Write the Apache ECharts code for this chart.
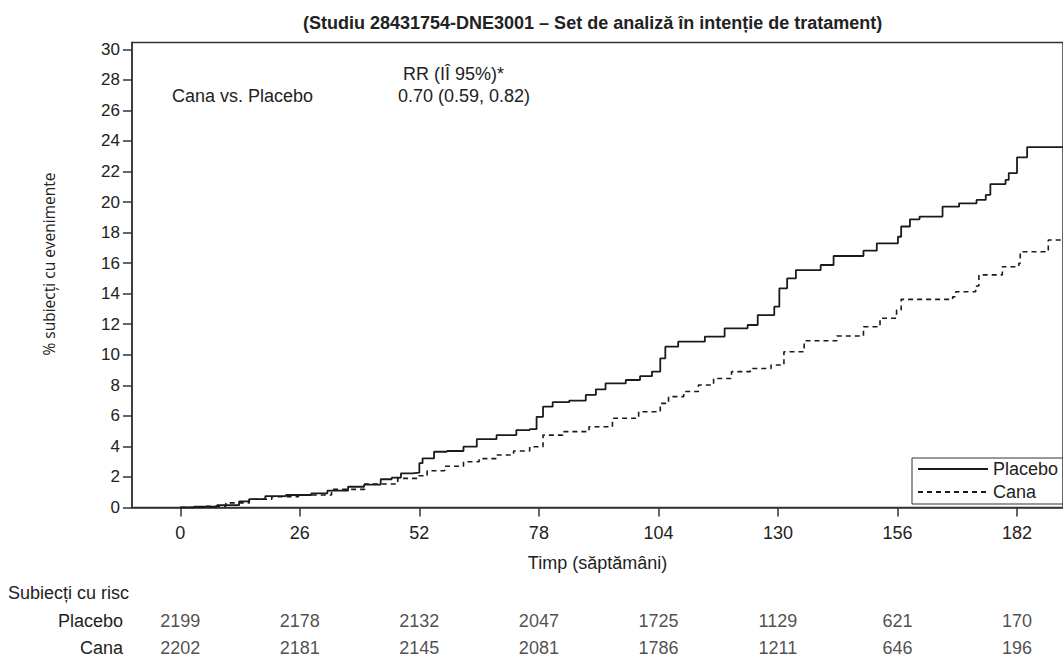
<!DOCTYPE html>
<html>
<head>
<meta charset="utf-8">
<script src="https://cdn.jsdelivr.net/npm/echarts@6/dist/echarts.min.js"></script>
<style>
html,body{margin:0;padding:0;background:#fff;}
#chart{width:1063px;height:664px;}
</style>
</head>
<body>
<div id="chart"></div>
<script>
// ---- data ----
var xTicks = [0, 26, 52, 78, 104, 130, 156, 182];
var yTicks = [0, 2, 4, 6, 8, 10, 12, 14, 16, 18, 20, 22, 24, 26, 28, 30];

var placebo = [[0,0],[3,0.05],[8,0.15],[12.8,0.4],[15,0.55],[18.5,0.75],[23,0.82],[28.5,0.93],[32,1.1],[36.5,1.36],[40,1.5],[43.6,1.85],[46,1.95],[48,2.24],[50.5,2.28],[52,2.9],[52.7,3.22],[55.2,3.65],[58,3.7],[61.6,3.98],[64.5,4.48],[68.8,4.74],[73.1,5.07],[76,5.13],[77.5,5.94],[78.9,6.6],[81,6.9],[84.6,7.0],[88.2,7.37],[90.4,7.74],[92.5,8.13],[96.9,8.35],[100,8.6],[102.6,8.9],[104.4,9.77],[105.5,10.53],[108.3,10.86],[114.1,11.19],[118.4,11.73],[123.4,11.95],[125.6,12.6],[129.2,13.15],[130.3,14.35],[132,15.0],[133.9,15.55],[139.3,15.88],[142.1,16.47],[148.6,16.82],[151.5,17.3],[156.1,17.73],[156.8,18.4],[158.7,18.87],[160.8,19.05],[165.8,19.7],[169.4,19.92],[173.2,20.14],[175.2,20.47],[176.2,21.18],[179.5,21.45],[180.2,21.9],[182,22.93],[184.2,23.6],[192,23.6]];

var cana = [[0,0],[5,0.08],[9.9,0.3],[15,0.54],[19.9,0.7],[25.7,0.82],[32.9,1.19],[40.1,1.54],[47.3,1.91],[51.6,2.08],[53.7,2.41],[57.5,2.7],[61.6,3.0],[65,3.2],[68.8,3.44],[72.5,3.7],[76,3.98],[78.9,4.74],[83.2,4.97],[88.9,5.29],[94,5.84],[99.7,6.27],[104.4,6.82],[106.2,7.26],[109.5,7.6],[112.7,8.02],[116,8.45],[119.9,8.9],[124,9.1],[128.5,9.33],[131.3,10.2],[135.7,10.92],[142.8,11.23],[148.6,11.84],[152.2,12.39],[155.8,12.93],[156.8,13.63],[168,13.8],[168.7,14.13],[173,14.5],[173.7,15.23],[178.8,15.77],[182.4,15.99],[182.7,16.75],[188.1,16.86],[188.8,17.52],[192,17.52]];

var riskTimes = [0, 26, 52, 78, 104, 130, 156, 182];
var riskPlacebo = [2199, 2178, 2132, 2047, 1725, 1129, 621, 170];
var riskCana = [2202, 2181, 2145, 2081, 1786, 1211, 646, 196];
var riskGroups = ['Placebo', 'Cana'];

// ---- chart ----
var FONT = "'Liberation Sans', Arial, sans-serif";
var NARROW = "'Liberation Sans Narrow', 'Liberation Sans', Arial, sans-serif";
var INK = '#222';

var riskData = [];
riskTimes.forEach(function (t, i) {
  riskData.push([t, 'Placebo', riskPlacebo[i]]);
  riskData.push([t, 'Cana', riskCana[i]]);
});

var chart = echarts.init(document.getElementById('chart'), null, {renderer: 'svg'});
chart.setOption({
  backgroundColor: '#fff',
  animation: false,
  title: {
    text: '(Studiu 28431754-DNE3001 \u2013 Set de analiz\u0103 \u00een inten\u021bie de tratament)',
    left: 298, top: 9,
    textStyle: {fontFamily: NARROW, fontWeight: 'bold', fontSize: 18, color: INK}
  },
  legend: {
    data: ['Placebo', 'Cana'],
    orient: 'vertical',
    left: 912, top: 458,
    padding: [2, 8, 3, 5],
    itemWidth: 70, itemHeight: 16, itemGap: 5, itemTextGap: 10,
    borderColor: '#333', borderWidth: 1,
    itemStyle: {opacity: 0},
    textStyle: {fontFamily: FONT, fontSize: 18, color: INK}
  },
  grid: [
    {left: 132, right: -8.4, top: 42.5, height: 465, show: true, borderColor: '#333', borderWidth: 1.5, backgroundColor: 'transparent'},
    {left: 132, right: -8.4, top: 607, height: 54}
  ],
  xAxis: [
    {
      type: 'value', gridIndex: 0, min: -10.5, max: 192,
      name: 'Timp (s\u0103pt\u0103m\u00e2ni)', nameLocation: 'middle', nameGap: 46,
      nameTextStyle: {fontFamily: FONT, fontSize: 18, color: INK},
      axisLine: {show: true, onZero: false, lineStyle: {color: '#333', width: 1.5}},
      axisTick: {show: true, length: 9, customValues: xTicks, lineStyle: {color: '#333', width: 1.5}},
      axisLabel: {customValues: xTicks, margin: 16, fontFamily: FONT, fontSize: 18, color: INK},
      splitLine: {show: false}
    },
    {type: 'value', gridIndex: 1, min: -10.5, max: 192, show: false}
  ],
  yAxis: [
    {
      type: 'value', gridIndex: 0, min: 0, max: 30.45,
      axisLine: {show: true, onZero: false, lineStyle: {color: '#333', width: 1.5}},
      axisTick: {show: true, length: 9, customValues: yTicks, lineStyle: {color: '#333', width: 1.5}},
      axisLabel: {customValues: yTicks, margin: 12, fontFamily: FONT, fontSize: 17, color: INK},
      splitLine: {show: false}
    },
    {
      type: 'category', gridIndex: 1, data: riskGroups, inverse: true,
      axisLine: {show: false, onZero: false}, axisTick: {show: false},
      axisLabel: {margin: 9, fontFamily: NARROW, fontSize: 18, color: INK}
    }
  ],
  graphic: [
    {type: 'text', x: 403, y: 74, style: {text: 'RR (I\u00ce 95%)*', fontFamily: FONT, fontSize: 18, fill: INK, align: 'left', verticalAlign: 'middle'}},
    {type: 'text', x: 172, y: 96, style: {text: 'Cana vs. Placebo', fontFamily: FONT, fontSize: 18, fill: INK, align: 'left', verticalAlign: 'middle'}},
    {type: 'text', x: 398, y: 96, style: {text: '0.70 (0.59, 0.82)', fontFamily: FONT, fontSize: 18, fill: INK, align: 'left', verticalAlign: 'middle'}},
    {type: 'text', x: 48.5, y: 264, rotation: Math.PI / 2, style: {text: '% subiec\u021bi cu evenimente', fontFamily: "'Open Sans', sans-serif", fontSize: 15.5, fill: INK, align: 'center', verticalAlign: 'middle'}},
    {type: 'text', x: 8, y: 593, style: {text: 'Subiec\u021bi cu risc', fontFamily: NARROW, fontSize: 18, fill: INK, align: 'left', verticalAlign: 'middle'}}
  ],
  series: [
    {
      name: 'Placebo', type: 'line', step: 'end', data: placebo,
      xAxisIndex: 0, yAxisIndex: 0,
      symbol: 'none', showSymbol: false,
      lineStyle: {color: '#1a1a1a', width: 1.8, type: 'solid'},
      itemStyle: {color: '#1a1a1a'}
    },
    {
      name: 'Cana', type: 'line', step: 'end', data: cana,
      xAxisIndex: 0, yAxisIndex: 0,
      symbol: 'none', showSymbol: false,
      lineStyle: {color: '#1a1a1a', width: 1.6, type: [5, 4]},
      itemStyle: {color: '#1a1a1a'}
    },
    {
      name: 'risc', type: 'scatter', data: riskData,
      xAxisIndex: 1, yAxisIndex: 1,
      symbolSize: 0.1, itemStyle: {color: 'rgba(0,0,0,0)'},
      label: {
        show: true, position: 'inside',
        formatter: function (p) { return String(p.value[2]); },
        fontFamily: NARROW, fontSize: 18, color: INK
      },
      silent: true
    }
  ]
});
</script>
</body>
</html>
